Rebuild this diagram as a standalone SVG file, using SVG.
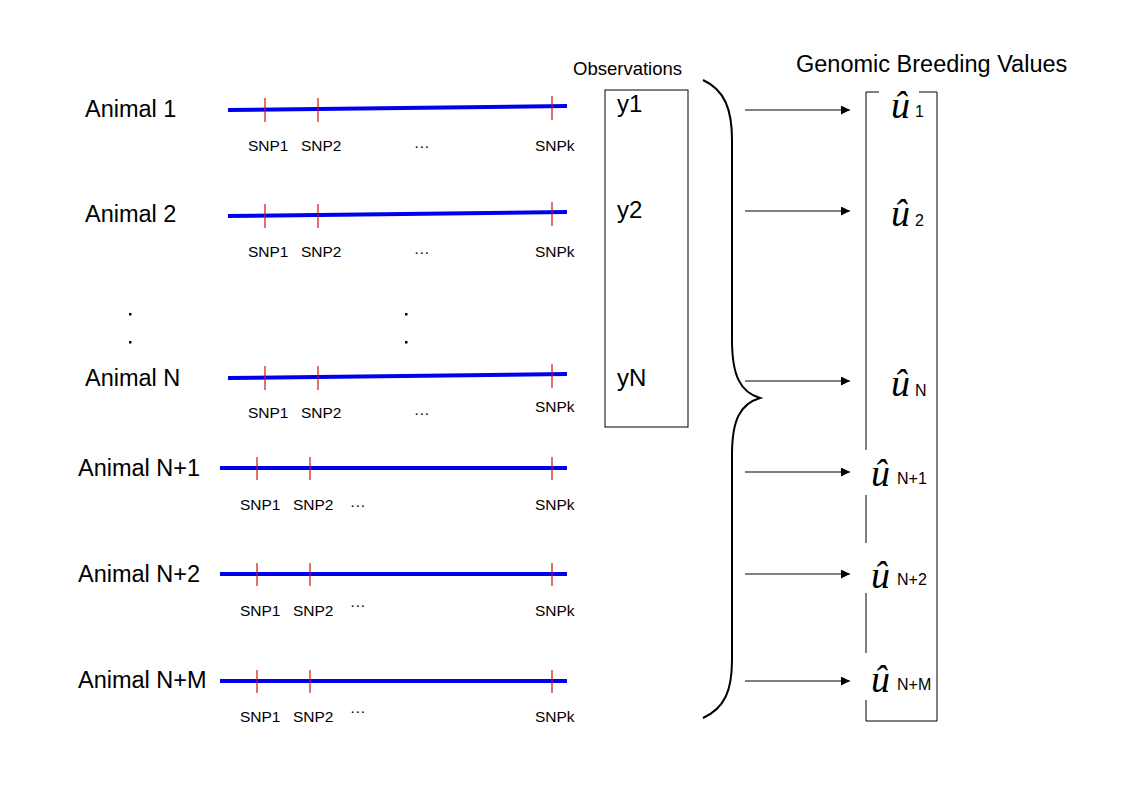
<svg xmlns="http://www.w3.org/2000/svg" width="1123" height="794" viewBox="0 0 1123 794">
<style>
text{font-family:"Liberation Sans",Arial,sans-serif;fill:#000}
.an{font-size:23.5px}
.snp{font-size:15.5px}
.chrom{stroke:#0000ee;stroke-width:4;fill:none}
.tick{stroke:#d01010;stroke-width:1.2}
.obs{font-size:24px}
.u{font-family:"Liberation Serif","Times New Roman",serif;font-style:italic;font-size:38px}
.sub{font-size:16px}
.ln{stroke:#000;stroke-width:1;fill:none}
</style>
<defs>
<marker id="ah" viewBox="0 0 10 10" refX="10" refY="5" markerWidth="12" markerHeight="9" markerUnits="userSpaceOnUse" orient="auto">
<path d="M0,0 L10,5 L0,10 z" fill="#000"/>
</marker>
</defs>
<rect width="1123" height="794" fill="#fff"/>

<g id="animal1">
<text class="an" x="85" y="117">Animal 1</text>
<line class="chrom" x1="228" y1="110" x2="567" y2="106"/>
<line class="tick" x1="265" y1="98" x2="265" y2="122"/>
<line class="tick" x1="318" y1="98" x2="318" y2="122"/>
<line class="tick" x1="552" y1="96" x2="552" y2="120"/>
<text class="snp" x="248" y="151">SNP1</text><text class="snp" x="301" y="151">SNP2</text><text class="snp" x="414" y="151">···</text><text class="snp" x="535" y="151">SNPk</text>
</g>
<g id="animal2">
<text class="an" x="85" y="222">Animal 2</text>
<line class="chrom" x1="228" y1="216" x2="567" y2="212"/>
<line class="tick" x1="265" y1="204" x2="265" y2="228"/>
<line class="tick" x1="318" y1="204" x2="318" y2="228"/>
<line class="tick" x1="552" y1="202" x2="552" y2="226"/>
<text class="snp" x="248" y="257">SNP1</text><text class="snp" x="301" y="257">SNP2</text><text class="snp" x="414" y="257">···</text><text class="snp" x="535" y="257">SNPk</text>
</g>
<g id="dots">
<rect x="129" y="313" width="2.5" height="2.5" fill="#000"/>
<rect x="129" y="341" width="2.5" height="2.5" fill="#000"/>
<rect x="405" y="313" width="2.5" height="2.5" fill="#000"/>
<rect x="405" y="341" width="2.5" height="2.5" fill="#000"/>
</g>
<g id="animalN">
<text class="an" x="85" y="386">Animal N</text>
<line class="chrom" x1="228" y1="378" x2="567" y2="374"/>
<line class="tick" x1="265" y1="366" x2="265" y2="390"/>
<line class="tick" x1="318" y1="366" x2="318" y2="390"/>
<line class="tick" x1="552" y1="364" x2="552" y2="388"/>
<text class="snp" x="248" y="418">SNP1</text><text class="snp" x="301" y="418">SNP2</text><text class="snp" x="414" y="418">···</text><text class="snp" x="535" y="412">SNPk</text>
</g>
<g id="animalN1">
<text class="an" x="78" y="476">Animal N+1</text>
<line class="chrom" x1="220" y1="468" x2="567" y2="468"/>
<line class="tick" x1="257" y1="457" x2="257" y2="480"/>
<line class="tick" x1="310" y1="457" x2="310" y2="480"/>
<line class="tick" x1="552" y1="457" x2="552" y2="480"/>
<text class="snp" x="240" y="510">SNP1</text><text class="snp" x="293" y="510">SNP2</text><text class="snp" x="350" y="510">···</text><text class="snp" x="535" y="510">SNPk</text>
</g>
<g id="animalN2">
<text class="an" x="78" y="582">Animal N+2</text>
<line class="chrom" x1="220" y1="574" x2="567" y2="574"/>
<line class="tick" x1="257" y1="563" x2="257" y2="586"/>
<line class="tick" x1="310" y1="563" x2="310" y2="586"/>
<line class="tick" x1="552" y1="563" x2="552" y2="586"/>
<text class="snp" x="240" y="616">SNP1</text><text class="snp" x="293" y="616">SNP2</text><text class="snp" x="350" y="610">···</text><text class="snp" x="535" y="616">SNPk</text>
</g>
<g id="animalNM">
<text class="an" x="78" y="688">Animal N+M</text>
<line class="chrom" x1="220" y1="681" x2="567" y2="681"/>
<line class="tick" x1="257" y1="670" x2="257" y2="693"/>
<line class="tick" x1="310" y1="670" x2="310" y2="693"/>
<line class="tick" x1="552" y1="670" x2="552" y2="693"/>
<text class="snp" x="240" y="722">SNP1</text><text class="snp" x="293" y="722">SNP2</text><text class="snp" x="350" y="716">···</text><text class="snp" x="535" y="722">SNPk</text>
</g>

<g id="observations">
<text x="573" y="75" font-size="18.5">Observations</text>
<rect x="605" y="90" width="83" height="337" fill="none" stroke="#000" stroke-width="1"/>
<text class="obs" x="617" y="112">y1</text>
<text class="obs" x="617" y="218">y2</text>
<text class="obs" x="617" y="386">yN</text>
</g>

<g id="brace">
<path d="M703,80 C725,90 732,110 732,140 L732,340 C732,375 740,392 760,398 C740,404 732,420 732,455 L732,660 C732,690 725,708 703,718" fill="none" stroke="#000" stroke-width="2"/>
</g>

<g id="connectors">
<line class="ln" x1="745" y1="110" x2="850" y2="110" marker-end="url(#ah)"/>
<line class="ln" x1="745" y1="211" x2="850" y2="211" marker-end="url(#ah)"/>
<line class="ln" x1="745" y1="381" x2="850" y2="381" marker-end="url(#ah)"/>
<line class="ln" x1="745" y1="472" x2="850" y2="472" marker-end="url(#ah)"/>
<line class="ln" x1="745" y1="574" x2="850" y2="574" marker-end="url(#ah)"/>
<line class="ln" x1="745" y1="681" x2="850" y2="681" marker-end="url(#ah)"/>
</g>

<g id="gebv">
<text x="796" y="72" font-size="23.5">Genomic Breeding Values</text>
<path class="ln" d="M879,92 L866,92 L866,450 M866,495 L866,543 M866,593 L866,653 M866,700 L866,721 L937,721 L937,92 L919,92"/>
<text class="u" x="891" y="118">û</text><text class="sub" x="915" y="117">1</text>
<text class="u" x="891" y="226">û</text><text class="sub" x="915" y="226">2</text>
<text class="u" x="891" y="396">û</text><text class="sub" x="915" y="396">N</text>
<text class="u" x="871" y="486">û</text><text class="sub" x="897" y="484">N+1</text>
<text class="u" x="871" y="588">û</text><text class="sub" x="897" y="585">N+2</text>
<text class="u" x="871" y="692">û</text><text class="sub" x="897" y="690">N+M</text>
</g>
</svg>
